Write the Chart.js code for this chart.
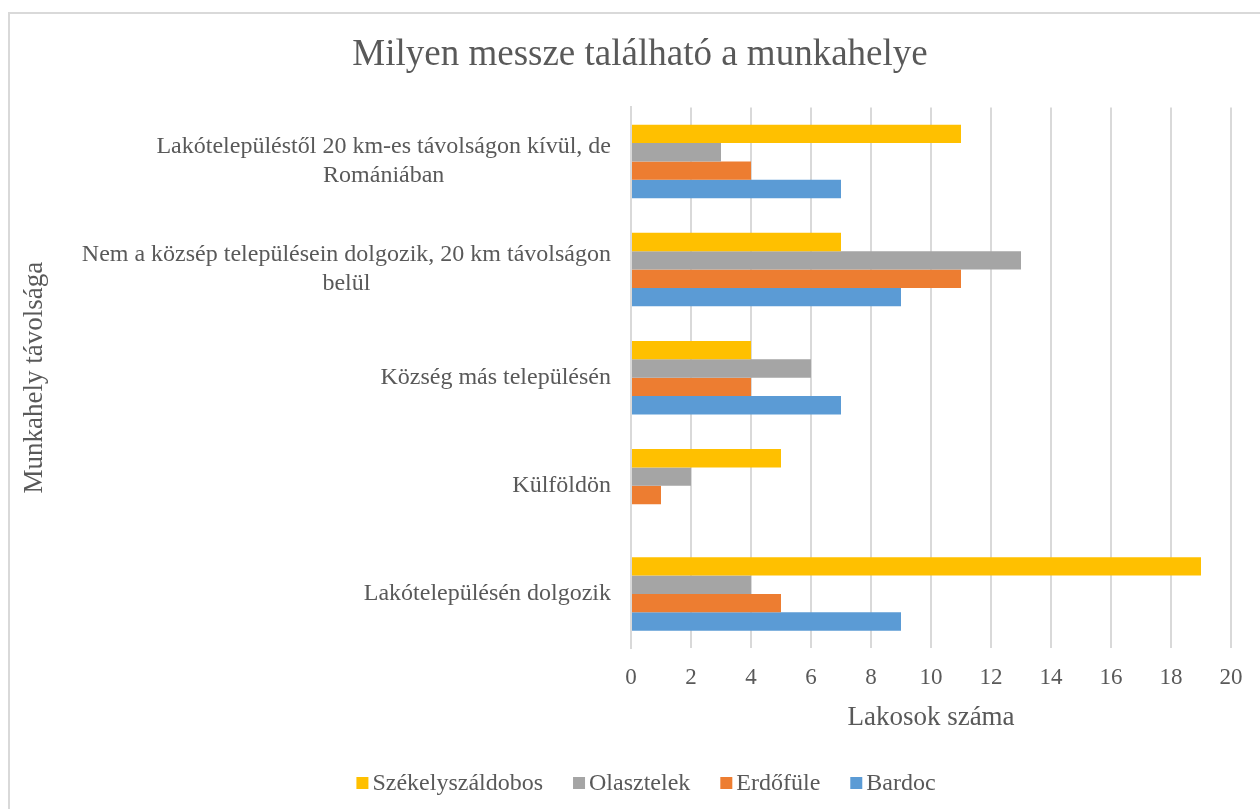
<!DOCTYPE html>
<html>
<head>
<meta charset="utf-8">
<script src="https://cdn.jsdelivr.net/npm/chart.js@4.4.0/dist/chart.umd.min.js"></script>
<style>
    body { margin: 0; background: #fff; }
    #wrap { position: relative; width: 1260px; height: 809px; }
    #keret { position: absolute; left: 8px; top: 12px; right: 0; bottom: 0; border-left: 2px solid #d9d9d9; border-top: 2px solid #d9d9d9; pointer-events: none; }
</style>
</head>
<body>
<div id="wrap">
    <canvas id="canvas-grafico" width="1260" height="809"></canvas>
    <div id="keret"></div>
</div>
<script>
const kategoriak = [
    ["Lakótelepüléstől 20 km-es távolságon kívül, de", "Romániában"],
    ["Nem a közsép településein dolgozik, 20 km távolságon", "belül"],
    ["Község más településén"],
    ["Külföldön"],
    ["Lakótelepülésén dolgozik"]
];
const szekelyszaldobos = [11, 7, 4, 5, 19];
const olasztelek = [3, 13, 6, 2, 4];
const erdofule = [4, 11, 4, 1, 5];
const bardoc = [7, 9, 7, 0, 9];
const xTicks = [0, 2, 4, 6, 8, 10, 12, 14, 16, 18, 20];

const szin = '#595959';
const betu = '"Liberation Serif", "Times New Roman", serif';

// y tengely feliratai: jobbra igazitva, soronkent kozepre
const cimkePlugin = {
    id: 'cimkek',
    afterDraw(chart){
        const ctx = chart.ctx;
        const y = chart.scales.y;
        ctx.save();
        ctx.font = '24px ' + betu;
        ctx.fillStyle = szin;
        ctx.textAlign = 'center';
        ctx.textBaseline = 'middle';
        const jobb = y.right - 20;
        const sorMag = 29;
        kategoriak.forEach((sorok, i) => {
            const cy = y.getPixelForValue(i);
            const szeles = Math.max(...sorok.map(s => ctx.measureText(s).width));
            const cx = jobb - szeles / 2;
            sorok.forEach((s, j) => {
                ctx.fillText(s, cx, cy + (j - (sorok.length - 1) / 2) * sorMag);
            });
        });
        ctx.restore();
    }
};

// jelmagyarazat kezzel, Excel-szeru kozokkel
const jelmagyarazat = {
    id: 'jelmagyarazat',
    afterDraw(chart){
        const ctx = chart.ctx;
        const ds = chart.data.datasets;
        ctx.save();
        ctx.font = '24px ' + betu;
        ctx.textBaseline = 'middle';
        ctx.textAlign = 'left';
        const doboz = 12, koz = 4, elemKoz = 30;
        const szelessegek = ds.map(d => doboz + koz + ctx.measureText(d.label).width);
        const teljes = szelessegek.reduce((a, b) => a + b, 0) + elemKoz * (ds.length - 1);
        let x = chart.width / 2 + 16 - teljes / 2;
        const cy = 783;
        ds.forEach((d, i) => {
            ctx.fillStyle = d.backgroundColor;
            ctx.fillRect(x, cy - doboz / 2, doboz, doboz);
            ctx.fillStyle = szin;
            ctx.fillText(d.label, x + doboz + koz, cy + 1);
            x += szelessegek[i] + elemKoz;
        });
        ctx.restore();
    }
};

const ctx_g = document.getElementById("canvas-grafico");
const grafico = new Chart(ctx_g, {
    type: 'bar',
    data: {
        labels: kategoriak.map(k => k.join(' ')),
        datasets: [
            { label: 'Székelyszáldobos', data: szekelyszaldobos, backgroundColor: '#FFC000' },
            { label: 'Olasztelek', data: olasztelek, backgroundColor: '#A5A5A5' },
            { label: 'Erdőfüle', data: erdofule, backgroundColor: '#ED7D31' },
            { label: 'Bardoc', data: bardoc, backgroundColor: '#5B9BD5' }
        ]
    },
    options: {
        indexAxis: 'y',
        responsive: false,
        animation: false,
        layout: { padding: { left: 49, right: 29, top: 12, bottom: 60 } },
        datasets: { bar: { categoryPercentage: 0.68, barPercentage: 1, borderWidth: 0 } },
        scales: {
            x: {
                min: 0, max: 20,
                afterBuildTicks(scale){ scale.ticks = xTicks.map(v => ({ value: v })); },
                afterFit(scale){ scale.height = 101; },
                grid: { color: '#d9d9d9', lineWidth: 2, drawTicks: false },
                border: { display: false },
                ticks: { color: szin, font: { family: betu, size: 23 }, padding: 16 },
                title: { display: true, text: 'Lakosok száma', color: szin, font: { family: betu, size: 27 }, padding: { top: 0, bottom: 15 } }
            },
            y: {
                afterFit(scale){ scale.width = 582; },
                grid: { display: false },
                border: { display: true, color: '#d9d9d9', width: 2 },
                ticks: { display: false },
                title: { display: true, text: 'Munkahely távolsága', color: szin, font: { family: betu, size: 27 }, padding: { top: -30, bottom: 0 } }
            }
        },
        plugins: {
            title: {
                display: true,
                text: 'Milyen messze található a munkahelye',
                color: szin,
                font: { family: betu, size: 37, weight: 'normal' },
                padding: { top: 21, bottom: 30 }
            },
            legend: { display: false },
            tooltip: { enabled: false }
        }
    },
    plugins: [cimkePlugin, jelmagyarazat]
});
</script>
</body>
</html>
